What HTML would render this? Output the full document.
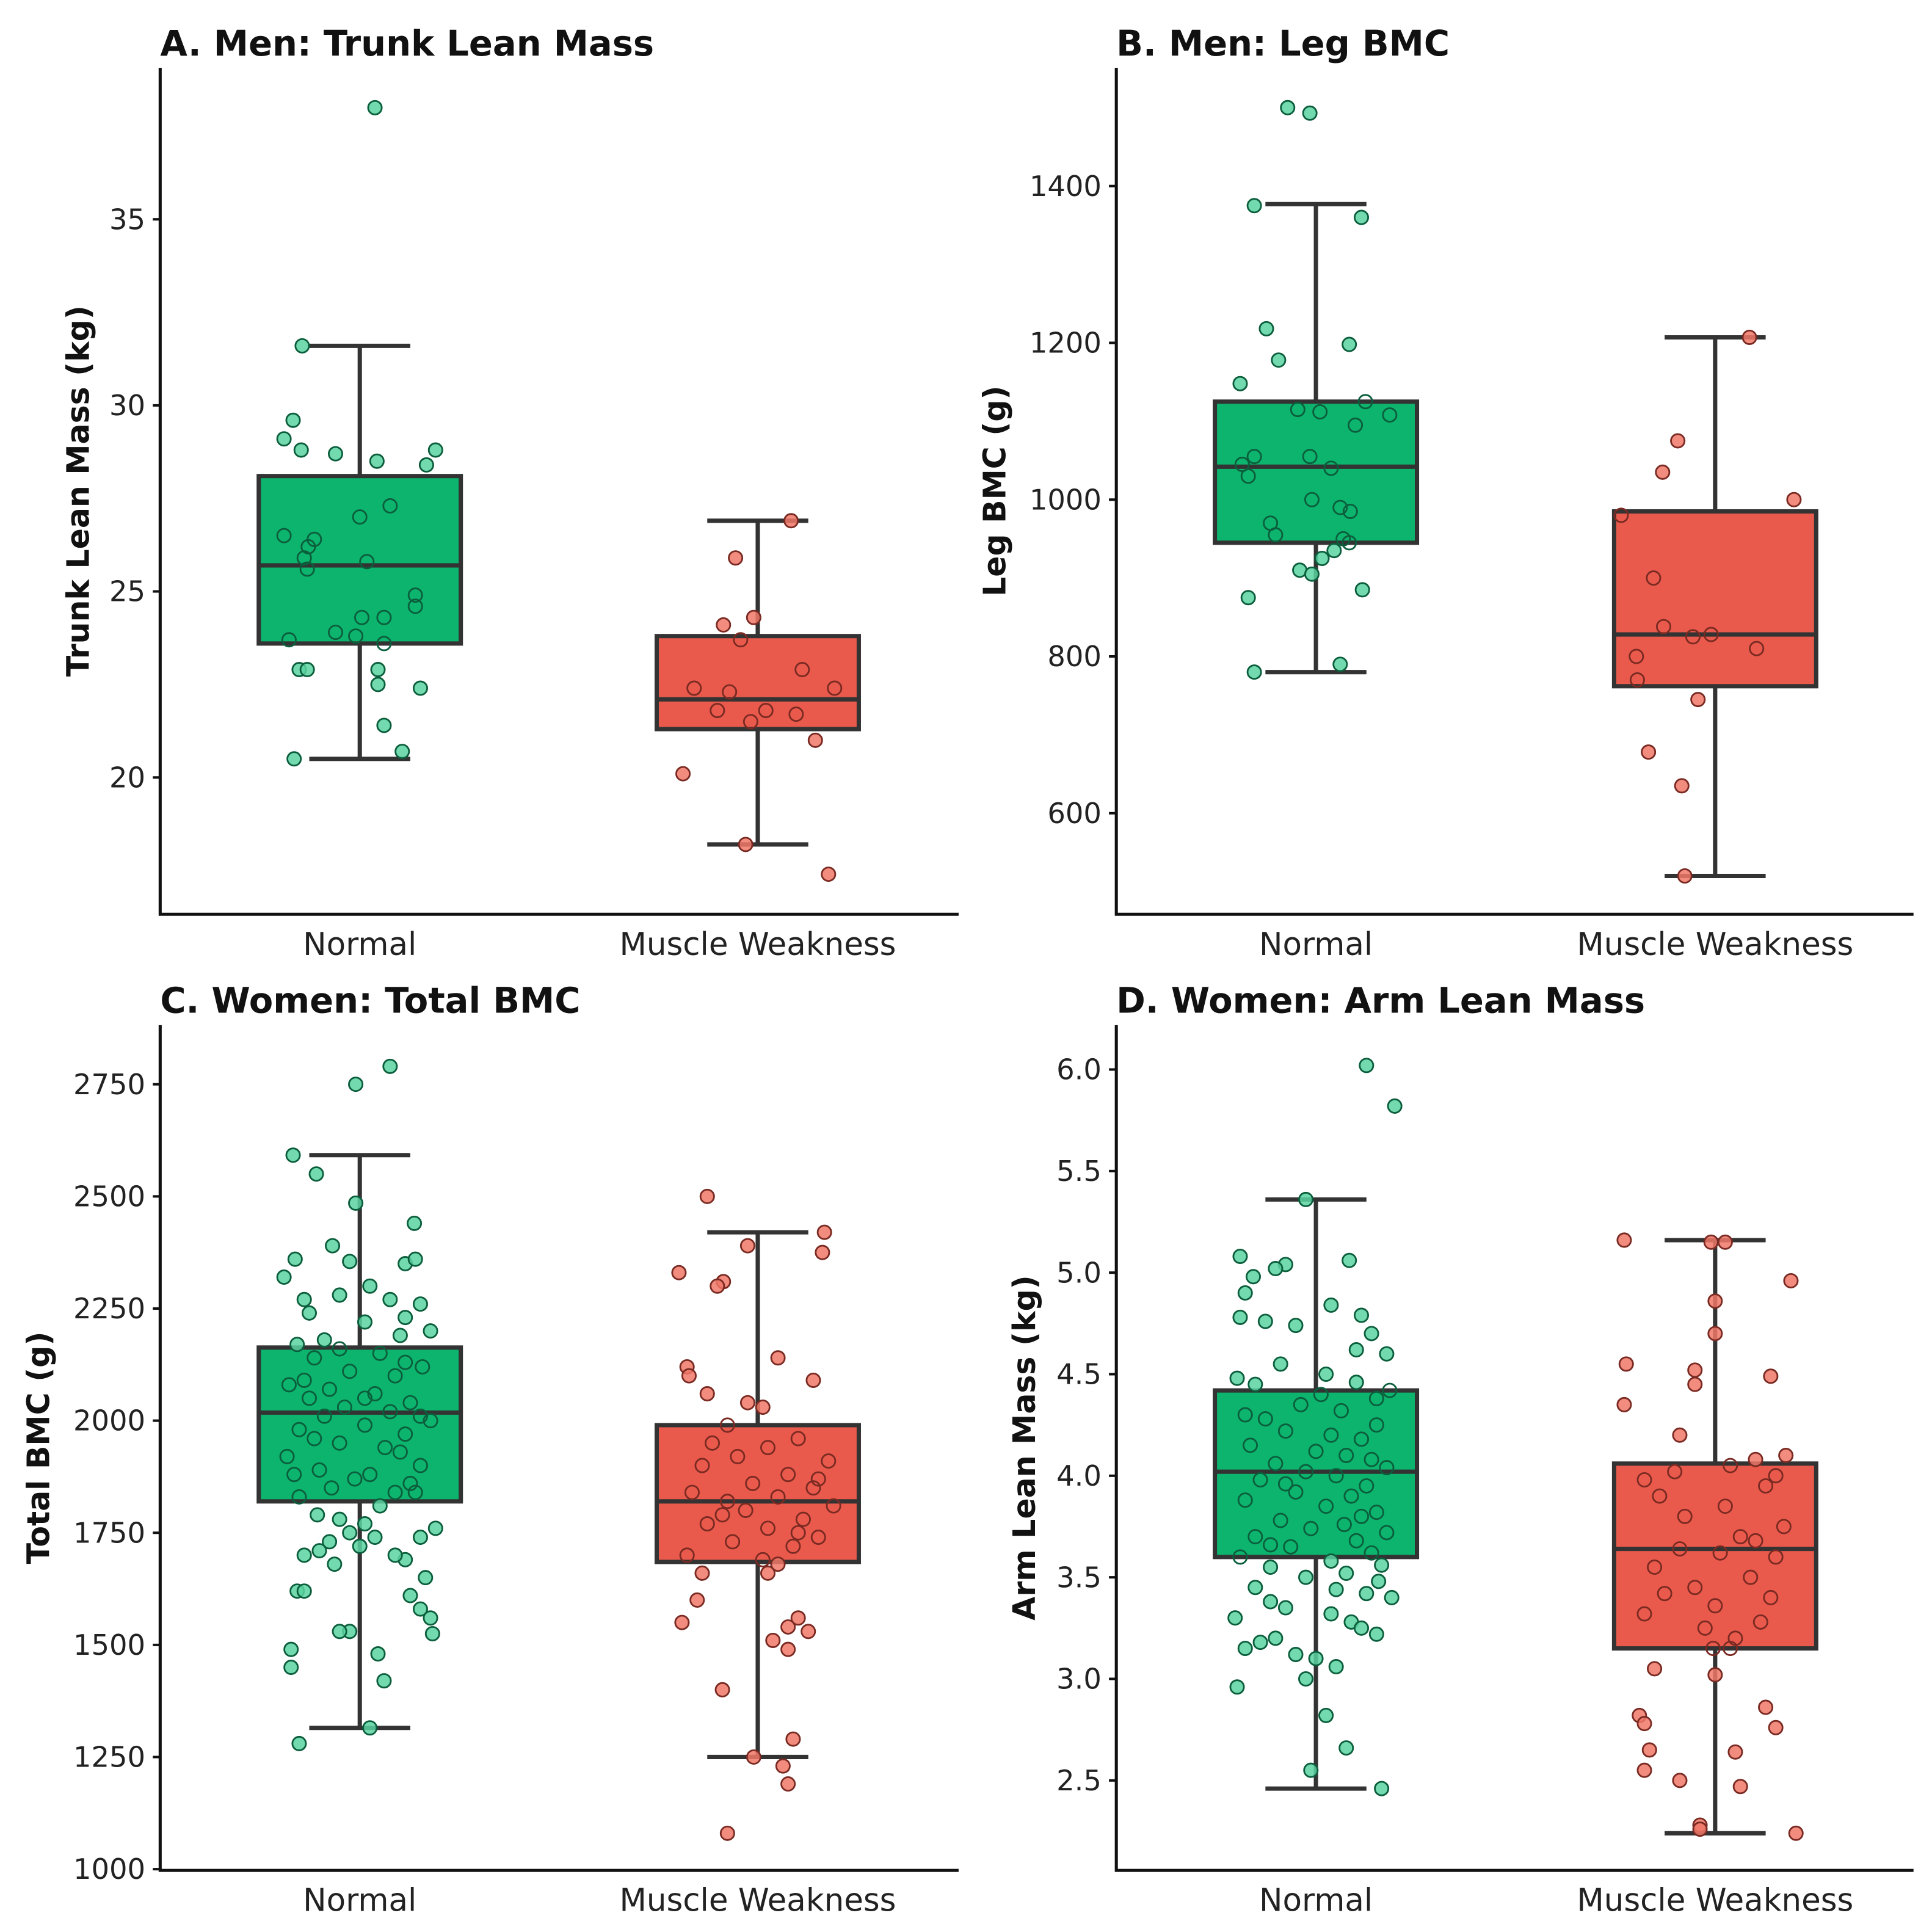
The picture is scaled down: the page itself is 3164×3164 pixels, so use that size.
<!DOCTYPE html>
<html><head><meta charset="utf-8"><style>
html,body{margin:0;padding:0;background:#fff;}
svg{display:block;font-family:"DejaVu Sans","Liberation Sans",sans-serif;}
</style></head><body>
<svg id="chart" width="3164" height="3164" viewBox="0 0 1568 1568" xmlns="http://www.w3.org/2000/svg"></svg>
<script>
const categories = ["Normal", "Muscle Weakness"];
const panelTitles = ["A. Men: Trunk Lean Mass", "B. Men: Leg BMC", "C. Women: Total BMC", "D. Women: Arm Lean Mass"];
const yTitles = ["Trunk Lean Mass (kg)", "Leg BMC (g)", "Total BMC (g)", "Arm Lean Mass (kg)"];
const yTicksA = [20, 25, 30, 35];
const yTicksB = [600, 800, 1000, 1200, 1400];
const yTicksC = [1000, 1250, 1500, 1750, 2000, 2250, 2500, 2750];
const yTicksD = [2.5, 3.0, 3.5, 4.0, 4.5, 5.0, 5.5, 6.0];
const yTickLabelsC = ["1000","1250","1500","1750","2000","2250","2500","2750"];
const yTickLabelsD = ["2.5","3.0","3.5","4.0","4.5","5.0","5.5","6.0"];
// box stats: [whiskerLow, q1, median, q3, whiskerHigh]
const boxA = [[20.5, 23.6, 25.7, 28.1, 31.6], [18.2, 21.3, 22.1, 23.8, 26.9]];
const boxB = [[780, 945, 1042, 1125, 1377], [520, 762, 828, 985, 1207]];
const boxC = [[1315, 1820, 2018, 2163, 2592], [1250, 1685, 1820, 1990, 2420]];
const boxD = [[2.46, 3.6, 4.02, 4.42, 5.36], [2.24, 3.15, 3.64, 4.06, 5.16]];
// points: [value, jitter (fraction of half box width)]
const ptsANormal = [[38.0,.15],[31.6,-.57],[29.6,-.66],[29.1,-.75],[28.8,-.58],[28.7,-.24],[28.8,.75],[28.5,.17],[28.4,.66],[27.3,.3],[27.0,0],[26.5,-.75],[26.4,-.45],[26.2,-.51],[25.9,-.55],[25.8,.07],[25.6,-.52],[24.9,.55],[24.6,.55],[24.3,.02],[24.3,.24],[23.9,-.24],[23.8,-.04],[23.7,-.7],[23.6,.24],[22.9,-.6],[22.9,-.52],[22.9,.18],[22.5,.18],[22.4,.6],[21.4,.24],[20.7,.42],[20.5,-.65]];
const ptsAWeak = [[26.9,.33],[25.9,-.22],[24.3,-.04],[24.1,-.34],[23.7,-.17],[22.9,.44],[22.4,-.63],[22.4,.76],[22.3,-.28],[21.8,-.4],[21.8,.08],[21.7,.38],[21.5,-.07],[21.0,.57],[20.1,-.74],[18.2,-.12],[17.4,.7]];
const ptsBNormal = [[1500,-.28],[1493,-.06],[1375,-.61],[1360,.45],[1218,-.49],[1198,.33],[1178,-.37],[1148,-.75],[1125,.49],[1115,-.18],[1112,.04],[1108,.73],[1095,.39],[1055,-.61],[1055,-.06],[1045,-.73],[1040,.15],[1030,-.67],[1000,-.04],[990,.24],[985,.34],[970,-.45],[955,-.4],[950,.27],[945,.33],[935,.18],[925,.06],[910,-.16],[905,-.04],[885,.46],[875,-.67],[790,.24],[780,-.61]];
const ptsBWeak = [[1207,.34],[1075,-.37],[1035,-.52],[1000,.78],[980,-.93],[900,-.61],[838,-.51],[825,-.22],[828,-.04],[810,.41],[800,-.78],[770,-.77],[745,-.17],[678,-.66],[635,-.33],[520,-.3]];
const ptsCNormal = [[2790,.3],[2750,-.04],[2592,-.66],[2550,-.43],[2485,-.04],[2440,.54],[2390,-.27],[2360,-.64],[2355,-.1],[2350,.45],[2320,-.75],[2300,.1],[2280,-.2],[2270,.3],[2260,.6],[2240,-.5],[2220,.05],[2200,.7],[2190,.4],[2170,-.62],[2160,-.2],[2150,.2],[2140,-.45],[2120,.62],[2110,-.1],[2100,.35],[2080,-.7],[2070,-.3],[2060,.15],[2050,-.5],[2040,.5],[2030,-.15],[2020,.3],[2010,-.35],[2000,.7],[1990,.05],[1980,-.6],[1970,.45],[1950,-.2],[1940,.25],[1920,-.72],[1900,.6],[1890,-.4],[1880,.1],[1870,-.05],[1860,.5],[1850,-.28],[1840,.35],[1830,-.6],[1810,.2],[1790,-.42],[1770,.05],[1760,.75],[1750,-.1],[1740,.15],[1730,-.3],[1720,.0],[1700,-.55],[1690,.45],[1680,-.25],[1650,.65],[1620,-.62],[1620,-.55],[1580,.6],[1560,.7],[1530,-.1],[1525,.72],[1490,-.68],[1480,.18],[1450,-.68],[1420,.24],[1315,.1],[1280,-.6],[2360,.55],[2270,-.55],[2230,.45],[2180,-.35],[2130,.45],[2090,-.55],[2050,.05],[2010,.6],[1960,-.45],[1930,.4],[1880,-.65],[1840,.55],[1780,-.2],[1740,.6],[1710,-.4],[1700,.35],[1530,-.2],[1610,.5]];
const ptsCWeak = [[2500,-.5],[2420,.66],[2390,-.1],[2375,.64],[2330,-.78],[2310,-.34],[2300,-.4],[2140,.2],[2120,-.7],[2100,-.68],[2090,.55],[2060,-.5],[2040,-.1],[2030,.05],[1990,-.3],[1960,.4],[1940,.1],[1920,-.2],[1910,.7],[1900,-.55],[1880,.3],[1860,-.05],[1850,.55],[1840,-.65],[1830,.2],[1820,-.3],[1810,.75],[1800,-.12],[1780,.45],[1770,-.5],[1760,.1],[1740,.6],[1730,-.25],[1720,.35],[1700,-.7],[1690,.05],[1680,.2],[1660,.1],[1600,-.6],[1560,.4],[1550,-.75],[1540,.3],[1530,.5],[1510,.15],[1490,.3],[1400,-.35],[1290,.35],[1250,-.04],[1230,.25],[1190,.3],[1080,-.3],[1950,-.45],[1870,.6],[1790,-.35],[1750,.4],[1660,-.55]];
const ptsDNormal = [[6.02,.5],[5.82,.78],[5.36,-.1],[5.08,-.75],[5.06,.33],[5.04,-.3],[5.02,-.4],[4.98,-.62],[4.9,-.7],[4.84,.15],[4.79,.45],[4.76,-.5],[4.74,-.2],[4.7,.55],[4.6,.7],[4.55,-.35],[4.5,.1],[4.48,-.78],[4.46,.4],[4.45,-.6],[4.42,.73],[4.4,.05],[4.35,-.15],[4.32,.25],[4.28,-.5],[4.25,.6],[4.22,-.3],[4.2,.15],[4.18,.45],[4.15,-.65],[4.12,.0],[4.1,.3],[4.06,-.4],[4.04,.7],[4.02,-.1],[4.0,.2],[3.98,-.55],[3.95,.5],[3.92,-.2],[3.9,.35],[3.88,-.7],[3.85,.1],[3.82,.6],[3.78,-.35],[3.76,.28],[3.74,-.05],[3.72,.7],[3.7,-.6],[3.68,.4],[3.65,-.25],[3.62,.55],[3.6,-.75],[3.58,.15],[3.55,-.45],[3.52,.3],[3.5,-.1],[3.48,.62],[3.45,-.6],[3.42,.5],[3.4,.75],[3.35,-.3],[3.32,.15],[3.3,-.8],[3.28,.35],[3.25,.45],[3.2,-.4],[3.18,-.55],[3.15,-.7],[3.12,-.2],[3.1,.0],[3.06,.2],[3.0,-.1],[2.96,-.78],[2.82,.1],[2.66,.3],[2.55,-.05],[2.46,.65],[4.78,-.75],[4.62,.4],[4.38,.6],[4.3,-.7],[4.08,.55],[3.96,-.3],[3.8,.45],[3.66,-.45],[3.56,.65],[3.44,.2],[3.38,-.45],[3.22,.6]];
const ptsDWeak = [[5.16,-.9],[5.15,-.04],[5.15,.1],[4.96,.75],[4.86,0],[4.7,0],[4.55,-.88],[4.52,-.2],[4.49,.55],[4.45,-.2],[4.35,-.9],[4.2,-.35],[4.1,.7],[4.08,.4],[4.05,.15],[4.02,-.4],[4.0,.6],[3.98,-.7],[3.95,.5],[3.9,-.55],[3.85,.1],[3.8,-.3],[3.75,.68],[3.7,.25],[3.68,.4],[3.64,-.35],[3.62,.05],[3.6,.6],[3.55,-.6],[3.5,.35],[3.45,-.2],[3.42,-.5],[3.4,.55],[3.36,.0],[3.32,-.7],[3.28,.45],[3.25,-.1],[3.2,.2],[3.15,-.02],[3.15,.15],[3.05,-.6],[3.02,.0],[2.86,.5],[2.82,-.75],[2.78,-.7],[2.76,.6],[2.65,-.65],[2.64,.2],[2.55,-.7],[2.5,-.35],[2.47,.25],[2.28,-.15],[2.26,-.15],[2.24,.8]];

const svg = document.getElementById('chart');
const NS = 'http://www.w3.org/2000/svg';
function mk(tag, attrs, parent){const e=document.createElementNS(NS,tag);for(const k in attrs)e.setAttribute(k,attrs[k]);(parent||svg).appendChild(e);return e;}

const panels = [
 {x0:130,x1:778,yTop:55,yBot:742,cx:[292,615],hw:82,ticks:yTicksA,labels:yTicksA.map(String),t1:20,p1:631,t2:35,p2:178,box:boxA,pts:[ptsANormal,ptsAWeak],ytx:72},
 {x0:906,x1:1553,yTop:55,yBot:742,cx:[1068,1392],hw:82,ticks:yTicksB,labels:yTicksB.map(String),t1:600,p1:660,t2:1400,p2:151,box:boxB,pts:[ptsBNormal,ptsBWeak],ytx:816},
 {x0:130,x1:778,yTop:832,yBot:1518,cx:[292,615],hw:82,ticks:yTicksC,labels:yTickLabelsC,t1:1000,p1:1517,t2:2750,p2:880,box:boxC,pts:[ptsCNormal,ptsCWeak],ytx:40},
 {x0:906,x1:1553,yTop:832,yBot:1518,cx:[1068,1392],hw:82,ticks:yTicksD,labels:yTickLabelsD,t1:2.5,p1:1445,t2:6.0,p2:868,box:boxD,pts:[ptsDNormal,ptsDWeak],ytx:840}
];
const fills=['#0db46e','#ea5a4c'], ptFill=['rgba(90,210,160,0.85)','rgba(240,120,105,0.85)'], ptStroke=['#0b5e3c','#7a2a22'];

panels.forEach((p,i)=>{
  const g = mk('g',{});
  
  
  const y = v => p.p1 + (v-p.t1)*(p.p2-p.p1)/(p.t2-p.t1);
  const t = mk('text',{x:p.x0,y:p.yTop-10,'font-size':28.5,'font-weight':'bold',fill:'#111'},g);
  t.textContent = panelTitles[i];
  
  
  const ax = mk('path',{d:`M${p.x0} ${p.yTop}V${p.yBot}H${p.x1}`,fill:'none',stroke:'#111','stroke-width':2.5},g);
  
  
  p.ticks.forEach((tv,k)=>{
    const yy=y(tv);
    mk('line',{x1:p.x0-6,x2:p.x0,y1:yy,y2:yy,stroke:'#111','stroke-width':2},g);
    const tl=mk('text',{x:p.x0-12,y:yy+8,'font-size':23,'text-anchor':'end',fill:'#222'},g);
    tl.textContent=p.labels[k];
    
    
  });
  const ym=(p.yTop+p.yBot)/2;
  const yt=mk('text',{x:p.ytx,y:ym,'font-size':25,'font-weight':'bold','text-anchor':'middle',fill:'#111',transform:`rotate(-90 ${p.ytx} ${ym})`},g);
  yt.textContent=yTitles[i];
  
  
  categories.forEach((c,j)=>{
    const cx=p.cx[j], b=p.box[j];
    mk('line',{x1:cx,x2:cx,y1:y(b[0]),y2:y(b[4]),stroke:'#333','stroke-width':3.5},g);
    mk('line',{x1:cx-41,x2:cx+41,y1:y(b[0]),y2:y(b[0]),stroke:'#333','stroke-width':3.5},g);
    mk('line',{x1:cx-41,x2:cx+41,y1:y(b[4]),y2:y(b[4]),stroke:'#333','stroke-width':3.5},g);
    const r=mk('rect',{x:cx-p.hw,y:y(b[3]),width:2*p.hw,height:y(b[1])-y(b[3]),fill:fills[j],stroke:'#333','stroke-width':3.5},g);
    
    
    mk('line',{x1:cx-p.hw,x2:cx+p.hw,y1:y(b[2]),y2:y(b[2]),stroke:'#333','stroke-width':3.5},g);
    p.pts[j].forEach(pt=>{
      const inBox = pt[0]>=b[1]&&pt[0]<=b[3];
      const cc=mk('circle',{cx:cx+pt[1]*p.hw,cy:y(pt[0]),r:5.5,fill:inBox?'none':ptFill[j],stroke:ptStroke[j],'stroke-width':1.4},g);
      
      
    });
    const xl=mk('text',{x:cx,y:p.yBot+33,'font-size':25.5,'text-anchor':'middle',fill:'#222'},g);
    xl.textContent=c;
    
    
  });
});
</script>
</body></html>
